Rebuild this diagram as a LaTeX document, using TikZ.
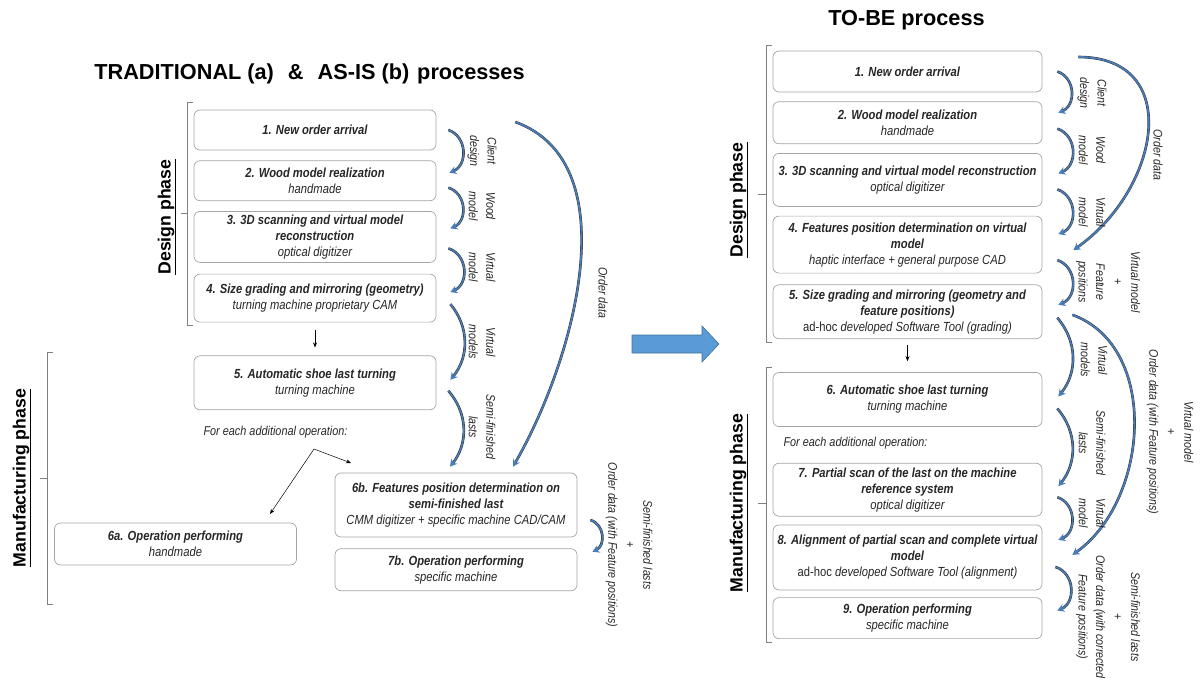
\documentclass[tikz,border=0pt]{standalone}
\usepackage{fontspec}
\setmainfont{Liberation Sans}
\newfontfamily\narrowfont{Liberation Sans}[FakeStretch=0.85]
\usetikzlibrary{positioning, arrows.meta}

\definecolor{arcblue}{RGB}{74,126,187}
\definecolor{boxgray}{RGB}{165,165,165}
\definecolor{bigfill}{RGB}{91,155,213}
\definecolor{bigline}{RGB}{65,113,156}

\tikzset{
    stepbox/.style={draw=boxgray, rounded corners=6pt, line width=0.7pt, align=center, inner sep=2pt,
        font=\narrowfont\itshape\fontsize{13.2}{16}\selectfont, text=black!85},
    leftbox/.style={stepbox, minimum width=242pt},
    rightbox/.style={stepbox, minimum width=269pt},
    flowarc/.style={draw=arcblue, line width=1.5pt,
        preaction={draw=black!80, line width=2.6pt, -, shorten >=4pt},
        -{Stealth[length=7pt, width=8pt, fill=arcblue, color=arcblue]}},
    bigarc/.style={flowarc, line width=1.7pt},
    arclabel/.style={rotate=-90, align=center, font=\narrowfont\itshape\fontsize{12.5}{17.5}\selectfont, text=black!85},
    phaselabel/.style={rotate=90, font=\bfseries\fontsize{17.7}{20}\selectfont},
    phasebrace/.style={draw=gray, line width=0.6pt},
    headline/.style={font=\bfseries\fontsize{21.7}{26}\selectfont},
    thinarrow/.style={line width=0.5pt, -{Stealth[length=5pt, width=4pt]}},
    opnote/.style={anchor=west, font=\narrowfont\itshape\fontsize{12.8}{14}\selectfont, text=black!85}
}

\begin{document}
\begin{tikzpicture}[x=1pt, y=-1pt]
    \useasboundingbox (0,0) rectangle (1202,680);

    % left: traditional and as-is
    \node[headline] (lefttitle) at (309.5,74) {TRADITIONAL (a)\hspace{14pt}\&\hspace{14pt}AS-IS (b)\hspace{8pt}processes};

    \node[leftbox, minimum height=40pt] (a1) at (315,130) {{\bfseries 1. New order arrival}};
    \node[leftbox, minimum height=40pt, below=10pt of a1] (a2) {{\bfseries 2. Wood model realization}\\ handmade};
    \node[leftbox, minimum height=51pt, below=10pt of a2] (a3) {{\bfseries 3. 3D scanning and virtual model}\\ {\bfseries reconstruction}\\ optical digitizer};
    \node[leftbox, minimum height=48pt, below=11pt of a3] (a4) {{\bfseries 4. Size grading and mirroring (geometry)}\\ turning machine proprietary CAM};
    \node[leftbox, minimum height=54pt, below=33pt of a4] (a5) {{\bfseries 5. Automatic shoe last turning}\\ turning machine};
    \node[leftbox, minimum height=42pt] (a6a) at (175.5,544) {{\bfseries 6a. Operation performing}\\ handmade};
    \node[leftbox, minimum height=64pt] (a6b) at (456,505) {{\bfseries 6b. Features position determination on}\\ {\bfseries semi-finished last}\\ CMM digitizer + specific machine CAD/CAM};
    \node[leftbox, minimum height=42pt, below=11pt of a6b] (a7b) {{\bfseries 7b. Operation performing}\\ specific machine};

    \draw[phasebrace] (193,102) -- (187,102) -- (187,325) -- (193,325) (187,213) -- (181,213);
    \draw[phasebrace] (53,352) -- (47,352) -- (47,604) -- (53,604) (47,478) -- (40,478);
    \node[phaselabel] (adesign) at (167,217) {\underline{Design phase}};
    \node[phaselabel] (amanuf) at (22,478) {\underline{Manufacturing phase}};

    \draw[thinarrow, shorten <=8pt, shorten >=8pt] (a4) -- (a5);
    \node[opnote] (anote) at (200,432) {For each additional operation:};
    \coordinate (split) at (314,449);
    \coordinate (to6a) at (270,514);
    \coordinate (to6b) at (351,463);
    \draw[thinarrow] (split) -- (to6a);
    \draw[thinarrow] (split) -- (to6b);

    \draw[flowarc] ([xshift=12pt]a1.east) to[bend left=70, looseness=1.2] ([shift={(13pt,8pt)}]a2.east);
    \draw[flowarc] ([shift={(12pt,-7pt)}]a2.east) to[bend left=70, looseness=1.2] ([shift={(14pt,8.5pt)}]a3.east);
    \draw[flowarc] ([shift={(12pt,-11.5pt)}]a3.east) to[bend left=70, looseness=1.2] ([shift={(14pt,6pt)}]a4.east);
    \draw[flowarc] ([shift={(14pt,-6pt)}]a4.east) to[bend left=40] ([shift={(14pt,3pt)}]a5.east);
    \draw[flowarc] ([shift={(12pt,-8pt)}]a5.east) to[bend left=40] ([shift={(-6pt,6pt)}]a6b.north);
    \draw[bigarc] ([shift={(79pt,8pt)}]a1.east) to[out=-20, in=60, looseness=0.9] ([shift={(57pt,6pt)}]a6b.north);
    \draw[flowarc] ([shift={(13pt,-15pt)}]a6b.east) to[bend left=70, looseness=1.2] ([shift={(15pt,18pt)}]a7b.east);

    \node[arclabel] (al1) at (482,151) {Client\\design};
    \node[arclabel] (al2) at (482,206) {Wood\\model};
    \node[arclabel] (al3) at (482,267) {Virtual\\model};
    \node[arclabel] (al4) at (482,342) {Virtual\\models};
    \node[arclabel] (al5) at (482,427) {Semi-finished\\lasts};
    \node[arclabel] (alorder) at (603,293) {Order data};
    \node[arclabel] (al6) at (629,545) {Semi-finished lasts\\+\\Order data (with Feature positions)};

    % passage arrow
    \draw[fill=bigfill, draw=bigline, line width=0.6pt] (632,335) -- (702,335) -- (702,326) -- (719,344)
        -- (702,362) -- (702,353) -- (632,353) -- cycle;

    % right: to-be
    \node[headline] (righttitle) at (906.5,20) {TO-BE process};

    \node[rightbox, minimum height=41pt] (b1) at (907.5,71.5) {{\bfseries 1. New order arrival}};
    \node[rightbox, minimum height=42pt, below=9pt of b1] (b2) {{\bfseries 2. Wood model realization}\\ handmade};
    \node[rightbox, minimum height=53pt, below=9pt of b2] (b3) {{\bfseries 3. 3D scanning and virtual model reconstruction}\\ optical digitizer};
    \node[rightbox, minimum height=57pt, below=9pt of b3] (b4) {{\bfseries 4. Features position determination on virtual}\\ {\bfseries model}\\ haptic interface + general purpose CAD};
    \node[rightbox, minimum height=54pt, below=11pt of b4] (b5) {{\bfseries 5. Size grading and mirroring (geometry and}\\ {\bfseries feature positions)}\\ {\upshape ad-hoc} developed Software Tool (grading)};
    \node[rightbox, minimum height=54pt, below=33pt of b5] (b6) {{\bfseries 6. Automatic shoe last turning}\\ turning machine};
    \node[rightbox, minimum height=53pt, below=36pt of b6] (b7) {{\bfseries 7. Partial scan of the last on the machine}\\ {\bfseries reference system}\\ optical digitizer};
    \node[rightbox, minimum height=65pt, below=8pt of b7] (b8) {{\bfseries 8. Alignment of partial scan and complete virtual}\\ {\bfseries model}\\ {\upshape ad-hoc} developed Software Tool (alignment)};
    \node[rightbox, minimum height=41pt, below=7pt of b8] (b9) {{\bfseries 9. Operation performing}\\ specific machine};

    \draw[phasebrace] (772,45) -- (766,45) -- (766,342) -- (772,342) (766,194) -- (758,194);
    \draw[phasebrace] (772,367) -- (766,367) -- (766,642) -- (772,642) (766,503) -- (758,503);
    \node[phaselabel] (bdesign) at (739,200) {\underline{Design phase}};
    \node[phaselabel] (bmanuf) at (739,503) {\underline{Manufacturing phase}};

    \draw[thinarrow, shorten <=6pt, shorten >=11pt] (b5) -- (b6);
    \node[opnote] (bnote) at (780,443) {For each additional operation:};

    \draw[flowarc] ([xshift=15pt]b1.east) to[bend left=70, looseness=1.2] ([shift={(16pt,10pt)}]b2.east);
    \draw[flowarc] ([shift={(15pt,-6pt)}]b2.east) to[bend left=70, looseness=1.2] ([shift={(16pt,6.5pt)}]b3.east);
    \draw[flowarc] ([shift={(15pt,-9.5pt)}]b3.east) to[bend left=70, looseness=1.2] ([shift={(16pt,10.5pt)}]b4.east);
    \draw[flowarc] ([shift={(15pt,-15.5pt)}]b4.east) to[bend left=70, looseness=1.2] ([shift={(16pt,7pt)}]b5.east);
    \draw[flowarc] ([shift={(15pt,-6pt)}]b5.east) to[bend left=40] ([shift={(16pt,3pt)}]b6.east);
    \draw[flowarc] ([shift={(15pt,-9pt)}]b6.east) to[bend left=40] ([shift={(16pt,3.5pt)}]b7.east);
    \draw[flowarc] ([shift={(15pt,-7.5pt)}]b7.east) to[bend left=70, looseness=1.2] ([shift={(16pt,17.5pt)}]b8.east);
    \draw[flowarc] ([shift={(13pt,-9.5pt)}]b8.east) to[bend left=70, looseness=1.2] ([shift={(15pt,7.5pt)}]b9.east);
    \draw[bigarc] ([shift={(36pt,14.5pt)}]b1.east) to[out=0, in=35, looseness=1.4] ([shift={(31pt,-5.5pt)}]b4.east);
    \draw[bigarc] ([shift={(30pt,-3pt)}]b5.east) to[out=-20, in=35] ([shift={(30pt,2.5pt)}]b8.east);

    \node[arclabel] (bl1) at (1092,93) {Client\\design};
    \node[arclabel] (bl2) at (1092,150) {Wood\\model};
    \node[arclabel] (bl3) at (1092,212) {Virtual\\model};
    \node[arclabel] (bl4) at (1108,282) {Virtual model\\+\\Feature\\positions};
    \node[arclabel] (blorder) at (1158,155) {Order data};
    \node[arclabel] (bl5) at (1094,360) {Virtual\\models};
    \node[arclabel] (bl6) at (1092,443) {Semi-finished\\lasts};
    \node[arclabel] (bl7) at (1092,513) {Virtual\\model};
    \node[arclabel] (blorder2) at (1170,432) {Virtual model\\+\\Order data (with Feature positions)};
    \node[arclabel] (bl8) at (1108,617) {Semi-finished lasts\\+\\Order data (with corrected\\Feature positions)};
\end{tikzpicture}
\end{document}
